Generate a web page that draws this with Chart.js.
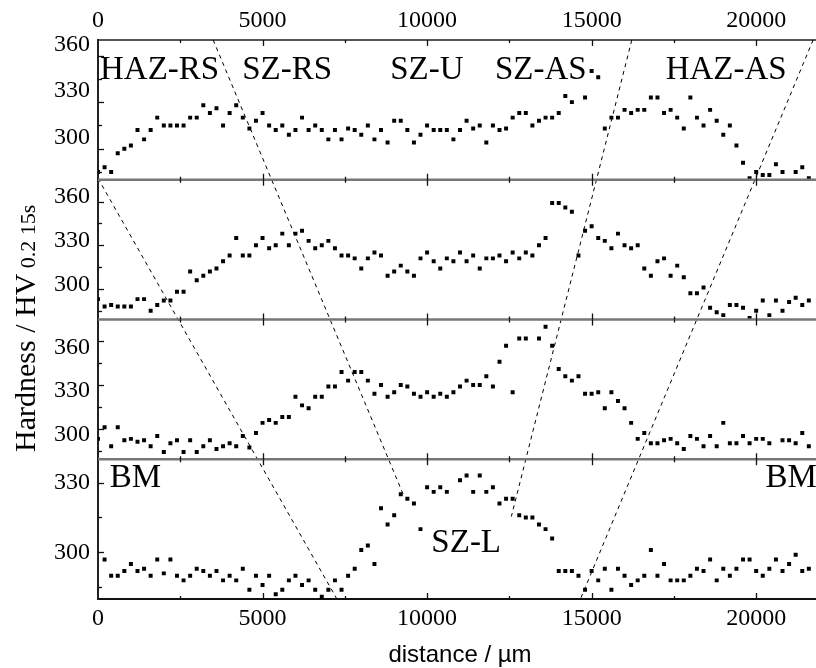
<!DOCTYPE html>
<html>
<head>
<meta charset="utf-8">
<script src="https://cdn.jsdelivr.net/npm/chart.js@4.4.1/dist/chart.umd.min.js"></script>
<style>
  html, body { margin: 0; padding: 0; background: #fff; overflow: hidden; }
  canvas { display: block; }
</style>
</head>
<body>
<canvas id="chart" width="826" height="668"></canvas>
<script>
// indent positions across the weld, µm
const distance = [
  0, 200, 400, 600, 800, 1000, 1200, 1400, 1600, 1800,
  2000, 2200, 2400, 2600, 2800, 3000, 3200, 3400, 3600, 3800,
  4000, 4200, 4400, 4600, 4800, 5000, 5200, 5400, 5600, 5800,
  6000, 6200, 6400, 6600, 6800, 7000, 7200, 7400, 7600, 7800,
  8000, 8200, 8400, 8600, 8800, 9000, 9200, 9400, 9600, 9800,
  10000, 10200, 10400, 10600, 10800, 11000, 11200, 11400, 11600, 11800,
  12000, 12200, 12400, 12600, 12800, 13000, 13200, 13400, 13600, 13800,
  14000, 14200, 14400, 14600, 14800, 15000, 15200, 15400, 15600, 15800,
  16000, 16200, 16400, 16600, 16800, 17000, 17200, 17400, 17600, 17800,
  18000, 18200, 18400, 18600, 18800, 19000, 19200, 19400, 19600, 19800,
  20000, 20200, 20400, 20600, 20800, 21000, 21200, 21400, 21600
];

// hardness rows, top of the plate to the root
const hvRow1 = [
  285, 288, 285, 297, 300, 302, 312, 306, 312, 320,
  315, 315, 315, 315, 320, 320, 328, 323, 326, 315,
  323, 328, 320, 313, 318, 323, 315, 312, 315, 309,
  312, 320, 312, 315, 312, 306, 312, 306, 313, 312,
  309, 315, 306, 312, 304, 318, 318, 312, 304, 309,
  315, 312, 312, 312, 306, 312, 318, 313, 315, 304,
  315, 312, 313, 320, 323, 323, 315, 318, 320, 320,
  323, 334, 330, null, 333, 350, 346, 313, 320, 320,
  325, 323, 325, 325, 333, 333, 323, 325, 320, 313,
  333, 320, 315, 325, 318, 309, 315, 302, 291, 281,
  285, 283, 283, 290, 285, null, 285, 288, 281
];
const hvRow2 = [
  293, 288, 289, 288, 288, 288, 293, 293, 285, 289,
  292, 292, 298, 298, 312, 306, 309, 312, 314, 319,
  323, 335, 323, 323, 330, 335, 328, 330, 338, 330,
  338, 340, 333, 328, 330, 333, 328, 323, 323, 321,
  314, 321, 325, 323, 309, 312, 316, 312, 309, 321,
  325, 319, 314, 321, 319, 325, 319, 323, 314, 321,
  321, 323, 319, 325, 321, 325, 323, 330, 335, 359,
  359, 356, 353, 323, 340, 343, 335, 333, 328, 338,
  330, 328, 330, 314, 309, 319, 321, 309, 316, 308,
  297, 297, 301, 287, 284, 282, 289, 289, 287, 280,
  285, 292, 282, 292, 285, 291, 294, 289, 292
];
const hvRow3 = [
  293, 301, 288, 301, 292, 293, 291, 292, 288, 295,
  284, 290, 292, 284, 292, 284, 288, 292, 286, 288,
  290, 288, 295, 287, 297, 304, 306, 304, 308, 308,
  322, 316, 314, 322, 322, 329, 329, 339, 333, 339,
  339, 333, 324, 330, 322, 325, 330, 329, 324, 322,
  325, 322, 324, 322, 325, 329, 333, 330, 330, 336,
  329, 346, 357, 325, 362, 362, null, 362, 370, 357,
  341, 336, 333, 336, 324, 324, 325, 314, 325, 319,
  314, 304, 293, 297, 290, 290, 292, 293, 290, 286,
  295, 293, 288, 295, 288, 304, 290, 290, 295, 290,
  293, 293, 290, null, 292, 292, 290, 297, 288
];
const hvRow4 = [
  null, 297, 290, 290, 292, 295, 292, 293, 290, 297,
  291, 297, 290, 288, 290, 293, 292, 290, 292, 288,
  290, 288, 293, 284, 290, 286, 290, 282, 284, 288,
  290, 286, 288, 284, 281, 284, 288, 284, 290, 293,
  301, 303, 295, 319, 312, 316, 325, 323, 321, 310,
  328, 326, 328, 326, null, 331, 333, 326, 333, 326,
  328, 321, 323, 323, 316, 315, 315, 312, 310, 306,
  292, 292, 292, 290, 284, 292, 288, 293, 284, 293,
  290, 286, 288, 290, 301, 290, 295, 288, 288, 288,
  290, 293, 292, 297, 288, 293, 290, 293, 297, 297,
  292, 290, 293, 297, 292, 295, 299, 292, 293
];

const hardnessTicks = [300, 330, 360];
const distanceTicks = [0, 5000, 10000, 15000, 20000];

// zone boundaries: [distance, height] with height 0 = bottom of row 4, 4 = top of row 1
const zoneLines = [
  [[0, 3.01], [7260, 0]],
  [[3500, 4], [9290, 0.74]],
  [[16220, 4], [12560, 0.59]],
  [[21730, 4], [14660, 0]]
];

const zoneNames = ['HAZ-RS', 'SZ-RS', 'SZ-U', 'SZ-AS', 'HAZ-AS', 'BM', 'BM', 'SZ-L'];
const zoneNameX = [60, 4380, 8880, 12060, 17250, 360, 20280, 10130];
const zoneNameRow = [1, 1, 1, 1, 1, 4, 4, 4];
const zoneNameHV = [345, 345, 345, 345, 345, 328, 328, 300];

function rowPoints(values) {
  return distance
    .map((d, i) => ({ x: d, y: values[i] }))
    .filter(p => p.y !== null);
}

const serif = '"Liberation Serif", "Times New Roman", serif';

function rowAxis(min, max, labelOffset) {
  return {
    type: 'linear',
    position: 'left',
    stack: 'hv',
    stackWeight: 1,
    min: min,
    max: max,
    grid: { display: false, drawTicks: false },
    border: { display: true, color: '#222', width: 2 },
    afterBuildTicks: (scale) => {
      scale.ticks = hardnessTicks.filter(v => v <= max).map(v => ({ value: v }));
    },
    afterFit: (scale) => { scale.width = 98; },
    ticks: {
      padding: 8,
      labelOffset: labelOffset,
      color: '#000',
      font: { family: serif, size: 24 },
      callback: (v) => String(v)
    }
  };
}

function distanceAxis(position, height, padding, borderColor) {
  return {
    type: 'linear',
    position: position,
    min: 0,
    max: 22000,
    grid: { display: false, drawTicks: false },
    border: { display: true, color: borderColor, width: 2 },
    afterBuildTicks: (scale) => { scale.ticks = distanceTicks.map(v => ({ value: v })); },
    afterFit: (scale) => { scale.height = height; },
    ticks: {
      padding: padding,
      maxRotation: 0,
      color: '#000',
      font: { family: serif, size: 24 },
      callback: (v) => String(v)
    }
  };
}

const dots = {
  type: 'scatter',
  showLine: false,
  pointStyle: 'rect',
  pointRadius: 2.8,
  pointBorderWidth: 0,
  pointBackgroundColor: '#000',
  xAxisID: 'x'
};

const datasets = [
  Object.assign({ data: rowPoints(hvRow1), yAxisID: 'y1' }, dots),
  Object.assign({ data: rowPoints(hvRow2), yAxisID: 'y2' }, dots),
  Object.assign({ data: rowPoints(hvRow3), yAxisID: 'y3' }, dots),
  Object.assign({ data: rowPoints(hvRow4), yAxisID: 'y4' }, dots)
];
zoneLines.forEach(line => {
  datasets.push({
    type: 'line',
    data: line.map(p => ({ x: p[0], y: p[1] })),
    xAxisID: 'x',
    yAxisID: 'yAll',
    borderColor: '#000',
    borderWidth: 1,
    borderDash: [4, 4],
    pointRadius: 0,
    fill: false
  });
});

const frame = {
  id: 'frame',
  afterDatasetsDraw(chart) {
    const { ctx, chartArea, scales } = chart;
    const x = scales.x;
    const rows = ['y1', 'y2', 'y3', 'y4'].map(id => scales[id]);
    ctx.save();

    // separators between rows
    ctx.strokeStyle = '#777';
    ctx.lineWidth = 2.5;
    rows.slice(1).forEach(r => {
      ctx.beginPath();
      ctx.moveTo(chartArea.left, r.top);
      ctx.lineTo(chartArea.right, r.top);
      ctx.stroke();
    });

    // inward tick marks
    ctx.strokeStyle = '#111';
    ctx.lineWidth = 1.3;
    rows.forEach(r => {
      for (let v = 2500; v <= 20000; v += 2500) {
        const px = Math.round(x.getPixelForValue(v)) + 0.5;
        const len = v % 5000 === 0 ? 6 : 3;
        ctx.beginPath();
        ctx.moveTo(px, r.top);
        ctx.lineTo(px, r.top + len);
        ctx.moveTo(px, r.bottom);
        ctx.lineTo(px, r.bottom - len);
        ctx.stroke();
      }
      const lo = Math.ceil(r.min / 15) * 15;
      for (let v = lo; v < r.max; v += 15) {
        const py = Math.round(r.getPixelForValue(v)) + 0.5;
        const len = v % 30 === 0 ? 6 : 4;
        ctx.beginPath();
        ctx.moveTo(chartArea.left, py);
        ctx.lineTo(chartArea.left + len, py);
        ctx.stroke();
      }
    });

    // zone names
    ctx.fillStyle = '#000';
    ctx.font = '33px ' + serif;
    ctx.textAlign = 'left';
    ctx.textBaseline = 'alphabetic';
    zoneNames.forEach((name, i) => {
      const r = rows[zoneNameRow[i] - 1];
      ctx.fillText(name, x.getPixelForValue(zoneNameX[i]), r.getPixelForValue(zoneNameHV[i]));
    });

    // y title with the test-load part in smaller type
    ctx.translate(35, 452);
    ctx.rotate(-Math.PI / 2);
    ctx.font = '30px ' + serif;
    ctx.fillText('Hardness / HV', 0, 0);
    const w = ctx.measureText('Hardness / HV').width;
    ctx.font = '22px ' + serif;
    ctx.fillText(' 0.2 15s', w, 0);
    ctx.restore();
  }
};

const bottomAxis = distanceAxis('bottom', 69, 5, '#111');
bottomAxis.title = {
  display: true,
  text: 'distance / \u00b5m',
  color: '#000',
  font: { family: '"Liberation Sans", Arial, sans-serif', size: 24, lineHeight: 1 },
  padding: { top: 0, bottom: 1 }
};

new Chart(document.getElementById('chart'), {
  type: 'scatter',
  data: { datasets: datasets },
  options: {
    responsive: false,
    animation: false,
    layout: { padding: { left: 0, right: 0.5, top: 0, bottom: 0 } },
    plugins: { legend: { display: false }, tooltip: { enabled: false } },
    scales: {
      x: bottomAxis,
      xTop: distanceAxis('top', 40, 4.5, '#555'),
      y4: rowAxis(280, 340, 0),
      y3: rowAxis(279, 375, 6),
      y2: rowAxis(279, 375, -4.5),
      y1: rowAxis(280, 370, -11),
      yAll: {
        type: 'linear',
        position: 'right',
        display: false,
        min: 0,
        max: 4,
        afterFit: (scale) => { scale.width = 0; }
      }
    }
  },
  plugins: [frame]
});
</script>
</body>
</html>
